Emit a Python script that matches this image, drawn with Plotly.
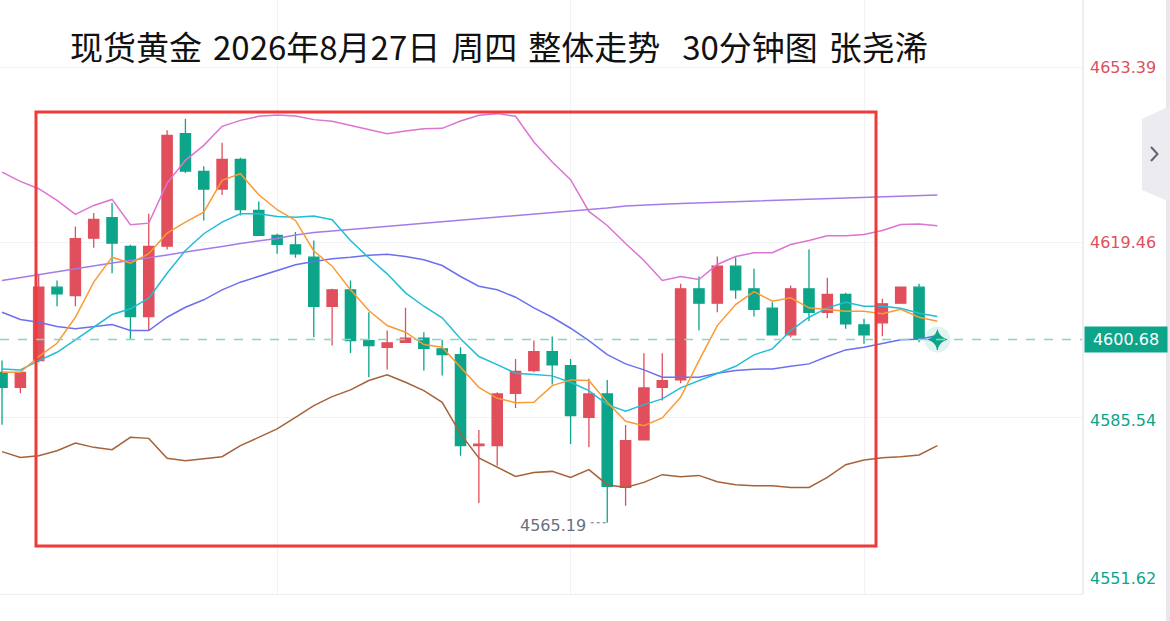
import plotly.graph_objects as go

# 30分钟K线 (index = bar number)
bars = list(range(52))
opens = [4594.32, 4591.42, 4596.59, 4610.80, 4609.19, 4620.29, 4624.25, 4618.68, 4605.12, 4618.74,
         4640.53, 4633.22, 4629.79, 4635.55, 4625.66, 4620.82, 4619.01, 4616.61, 4607.11, 4610.29,
         4600.47, 4599.17, 4600.14, 4600.91, 4598.86, 4597.75, 4580.12, 4580.12, 4590.25, 4594.65,
         4598.34, 4595.62, 4585.60, 4590.14, 4572.04, 4581.22, 4591.42, 4592.85, 4610.49, 4607.70,
         4614.87, 4610.49, 4606.73, 4601.57, 4610.49, 4605.95, 4609.38, 4603.51, 4603.90, 4607.70,
         4610.80, 4600.91]
highs = [4596.59, 4594.40, 4613.39, 4612.10, 4622.56, 4625.14, 4627.08, 4619.01, 4625.02, 4641.17,
         4643.43, 4634.19, 4638.78, 4635.87, 4627.41, 4621.15, 4621.46, 4619.85, 4610.49, 4612.10,
         4605.95, 4602.41, 4606.80, 4602.08, 4600.60, 4599.17, 4583.16, 4590.45, 4596.92, 4600.47,
         4601.24, 4596.92, 4593.05, 4592.85, 4584.13, 4598.01, 4598.01, 4611.46, 4612.87, 4616.75,
         4616.61, 4614.36, 4607.89, 4611.13, 4618.10, 4612.62, 4609.71, 4604.67, 4608.55, 4610.85,
         4611.46, 4602.08]
lows = [4584.19, 4590.25, 4596.20, 4607.11, 4607.11, 4618.43, 4613.51, 4600.72, 4602.41, 4618.10,
        4632.89, 4623.72, 4628.63, 4624.69, 4620.70, 4617.27, 4616.49, 4601.11, 4599.50, 4598.08,
        4593.36, 4594.85, 4600.00, 4594.65, 4593.68, 4578.18, 4569.01, 4576.24, 4587.42, 4594.32,
        4591.94, 4580.45, 4579.79, 4565.19, 4568.49, 4581.10, 4588.84, 4592.19, 4602.41, 4605.95,
        4608.55, 4605.12, 4601.45, 4601.11, 4604.21, 4604.79, 4602.74, 4599.83, 4601.30, 4607.65,
        4600.14, 4598.66]
closes = [4591.42, 4594.32, 4610.80, 4609.52, 4620.18, 4623.92, 4619.32, 4605.12, 4618.68, 4640.20,
          4633.28, 4629.79, 4635.55, 4625.80, 4620.82, 4619.07, 4617.27, 4607.11, 4610.29, 4600.47,
          4599.50, 4600.02, 4600.91, 4598.98, 4597.75, 4580.12, 4580.42, 4590.14, 4594.52, 4598.34,
          4595.76, 4585.93, 4590.14, 4572.23, 4581.09, 4591.30, 4592.72, 4610.49, 4607.70, 4614.87,
          4610.29, 4606.53, 4601.57, 4610.49, 4605.95, 4609.38, 4603.70, 4601.57, 4607.58, 4610.80,
          4600.91, 4600.68]

# 均线 / 布林带
ma5 = [4594.32, 4594.32, 4597.37, 4599.94, 4604.98, 4611.77, 4616.61, 4615.45, 4617.27, 4621.26,
       4623.39, 4625.33, 4631.48, 4632.77, 4628.70, 4625.80, 4623.72, 4617.81, 4614.87, 4610.29,
       4606.28, 4603.37, 4602.08, 4599.69, 4599.17, 4595.29, 4591.42, 4589.29, 4588.45, 4588.51,
       4591.75, 4592.85, 4592.72, 4588.51, 4584.83, 4583.99, 4585.49, 4589.48, 4596.59, 4603.37,
       4607.44, 4609.96, 4608.08, 4608.74, 4606.80, 4606.48, 4606.15, 4606.15, 4605.64, 4606.53,
       4604.98, 4604.21]
ma10 = [4594.98, 4594.79, 4596.59, 4598.20, 4600.60, 4603.05, 4605.51, 4606.61, 4608.67, 4613.51,
        4617.91, 4621.15, 4623.39, 4625.02, 4625.02, 4624.50, 4624.36, 4624.56, 4623.86, 4619.85,
        4616.49, 4613.39, 4609.71, 4607.11, 4604.87, 4600.80, 4597.37, 4595.82, 4594.13, 4593.88,
        4593.63, 4592.39, 4590.78, 4588.06, 4586.77, 4588.06, 4589.17, 4591.30, 4592.72, 4594.01,
        4595.49, 4597.70, 4598.86, 4602.41, 4604.98, 4606.80, 4607.89, 4607.11, 4607.11, 4606.73,
        4605.76, 4605.12]
boll_mid = [4605.95, 4604.54, 4604.01, 4603.18, 4602.74, 4603.18, 4603.57, 4602.41, 4602.41, 4604.98,
            4606.92, 4608.36, 4610.29, 4611.77, 4612.93, 4614.03, 4615.14, 4615.78, 4616.30, 4616.61,
            4617.00, 4617.19, 4616.75, 4616.11, 4615.00, 4612.87, 4610.99, 4610.29, 4608.86, 4606.80,
            4604.98, 4602.85, 4600.47, 4597.75, 4595.95, 4594.79, 4593.36, 4593.36, 4593.36, 4594.13,
            4594.65, 4594.91, 4594.98, 4595.49, 4595.95, 4597.37, 4598.66, 4599.17, 4599.83, 4600.60,
            4600.72, 4601.44]
boll_up = [4633.08, 4631.28, 4629.87, 4627.60, 4624.89, 4626.63, 4627.79, 4622.89, 4623.20, 4630.95,
           4635.35, 4638.26, 4641.94, 4643.10, 4643.88, 4644.13, 4643.94, 4643.24, 4642.91, 4642.13,
           4641.30, 4640.53, 4641.03, 4641.49, 4641.55, 4642.97, 4644.07, 4644.40, 4643.88, 4638.90,
           4635.02, 4631.61, 4625.47, 4622.75, 4619.27, 4615.97, 4612.10, 4612.87, 4612.29, 4615.20,
           4616.75, 4617.46, 4617.46, 4619.07, 4619.85, 4620.76, 4620.76, 4621.01, 4621.79, 4622.95,
           4623.01, 4622.70]
boll_dn = [4578.96, 4577.85, 4578.18, 4579.15, 4580.64, 4579.79, 4579.34, 4581.73, 4581.53, 4577.66,
           4577.21, 4577.54, 4577.99, 4580.12, 4581.73, 4583.36, 4585.60, 4587.87, 4589.61, 4590.91,
           4592.72, 4593.82, 4592.39, 4590.78, 4588.51, 4582.39, 4577.73, 4575.91, 4574.17, 4574.94,
           4575.14, 4573.97, 4575.47, 4572.56, 4572.04, 4573.01, 4574.50, 4574.11, 4574.36, 4573.14,
           4572.56, 4572.37, 4572.37, 4572.04, 4572.04, 4573.97, 4576.44, 4577.35, 4577.79, 4577.99,
           4578.32, 4580.12]
ma_long = [4612.10, 4612.68, 4613.26, 4613.74, 4614.32, 4614.91, 4615.49, 4615.97, 4616.46, 4617.04,
           4617.62, 4618.10, 4618.68, 4619.27, 4619.75, 4620.24, 4620.91, 4621.40, 4621.69, 4621.98,
           4622.27, 4622.60, 4622.89, 4623.18, 4623.47, 4623.76, 4624.07, 4624.36, 4624.65, 4624.94,
           4625.24, 4625.55, 4625.86, 4626.15, 4626.53, 4626.77, 4626.88, 4627.00, 4627.12, 4627.23,
           4627.35, 4627.46, 4627.58, 4627.70, 4627.81, 4627.93, 4628.05, 4628.14, 4628.26, 4628.37,
           4628.51, 4628.63]

axis_prices = [4653.39, 4619.46, 4585.54, 4551.62]
last_price = 4600.68
low_price = 4565.19
SP = "\u2004"
title_text = SP.join(["现货黄金", "2026年8月27日", "周四", "整体走势", "", "30分钟图", "张尧浠"])

RED = "#e04f5b"
GREEN = "#0ca589"

# plot area in pixels: 1083 x 594
PW, PH = 1083.0, 594.0


def px(x):
    return x / PW


def py(y):
    return (PH - y) / PH


fig = go.Figure()

lines = [
    (boll_up, "#dc74d2"),
    (boll_dn, "#a5623a"),
    (ma_long, "#a47be8"),
    (boll_mid, "#6a70ee"),
    (ma10, "#22bcd8"),
    (ma5, "#fb9a34"),
]
for vals, col in lines:
    fig.add_trace(go.Scatter(x=bars, y=vals, mode="lines",
                             line=dict(color=col, width=1.5), hoverinfo="skip"))

fig.add_trace(go.Candlestick(
    x=bars, open=opens, high=highs, low=lows, close=closes,
    increasing=dict(line=dict(color=RED, width=1.3), fillcolor=RED),
    decreasing=dict(line=dict(color=GREEN, width=1.3), fillcolor=GREEN),
    whiskerwidth=0,
))

# 最新价标记
fig.add_trace(go.Scatter(x=[bars[-1]], y=[last_price], mode="markers",
                         marker=dict(size=26, color="rgba(12,165,137,0.13)"), hoverinfo="skip"))
fig.add_trace(go.Scatter(x=[bars[-1]], y=[last_price], mode="markers",
                         marker=dict(size=15, symbol="star-diamond", color=GREEN), hoverinfo="skip"))

shapes = [
    # red frame
    dict(type="rect", xref="paper", yref="paper", x0=px(36), x1=px(876), y0=py(546), y1=py(112),
         line=dict(color="#f03a3a", width=3)),
    # current price dashed line
    dict(type="line", xref="paper", yref="y", x0=0, x1=1, y0=last_price, y1=last_price,
         line=dict(color="#86d6c4", width=1.5, dash="dash")),
    # lowest point dotted leader
    dict(type="line", xref="x", yref="y", x0=bars[33] - 0.9, x1=bars[33], y0=low_price, y1=low_price,
         line=dict(color="#6b7080", width=1, dash="dot")),
    # axis separator
    dict(type="line", xref="paper", yref="paper", x0=1, x1=1, y0=0, y1=py(0),
         line=dict(color="#eceef2", width=2)),
    # right scroll strip
    dict(type="rect", xref="paper", yref="paper", x0=px(1166), x1=px(1172), y0=py(640), y1=py(0),
         line=dict(width=0), fillcolor="#e6e8ee"),
    # collapse button
    dict(type="path", xref="paper", yref="paper",
         path="M {} {} L {} {} L {} {} L {} {} Z".format(
             px(1142), py(119), px(1170), py(106), px(1170), py(202), px(1142), py(190)),
         line=dict(width=0), fillcolor="#ebebf0"),
    # chevron
    dict(type="path", xref="paper", yref="paper",
         path="M {} {} L {} {} L {} {}".format(
             px(1151), py(147), px(1157.5), py(154), px(1151), py(161)),
         line=dict(color="#5f6470", width=2)),
]

annotations = [
    dict(xref="paper", yref="paper", x=px(68), y=py(46), xanchor="left", yanchor="middle",
         text=title_text, showarrow=False,
         font=dict(family="Noto Sans CJK SC", size=33, color="#111111")),
    dict(xref="x", yref="y", x=bars[33] - 1.05, y=low_price, xanchor="right", yanchor="middle",
         text="{:.2f}".format(low_price), showarrow=False, yshift=-3,
         font=dict(family="DejaVu Sans", size=16, color="#6b7080")),
    dict(xref="paper", yref="y", x=1, y=last_price, xanchor="left", yanchor="middle",
         text="{:.2f}".format(last_price), showarrow=False, bgcolor=GREEN, borderpad=3, xshift=1,
         width=76, font=dict(family="DejaVu Sans", size=16, color="white")),
]
label_shift = [0, 0, -3, 14]
for p, s in zip(axis_prices, label_shift):
    col = RED if p > last_price else GREEN
    annotations.append(dict(xref="paper", yref="y", x=1, y=p, xanchor="left", yanchor="middle",
                            text="{:.2f}".format(p), showarrow=False, xshift=5, yshift=s,
                            font=dict(family="DejaVu Sans", size=16, color=col)))

fig.update_layout(
    width=1170, height=621,
    margin=dict(l=0, r=87, t=0, b=27, autoexpand=False),
    paper_bgcolor="white", plot_bgcolor="white",
    showlegend=False, hovermode=False,
    boxgap=0.2,
    shapes=shapes, annotations=annotations,
    xaxis=dict(range=[-0.11, 58.94], rangeslider=dict(visible=False),
               tickvals=[15, 31, 47], showticklabels=False, ticks="",
               showgrid=True, gridcolor="#f1f2f5", gridwidth=1,
               showline=True, linecolor="#eceef2", linewidth=1, zeroline=False),
    yaxis=dict(range=[4551.4, 4666.4], side="right", tickvals=axis_prices[:3],
               showticklabels=False, ticks="", showgrid=True, gridcolor="#f1f2f5",
               gridwidth=1, zeroline=False),
)

# page body has a default 8px margin; drop it so the chart fills the window
fig.write_html("out.html", config={"displayModeBar": False},
               post_script="document.body.style.margin='0px';")
